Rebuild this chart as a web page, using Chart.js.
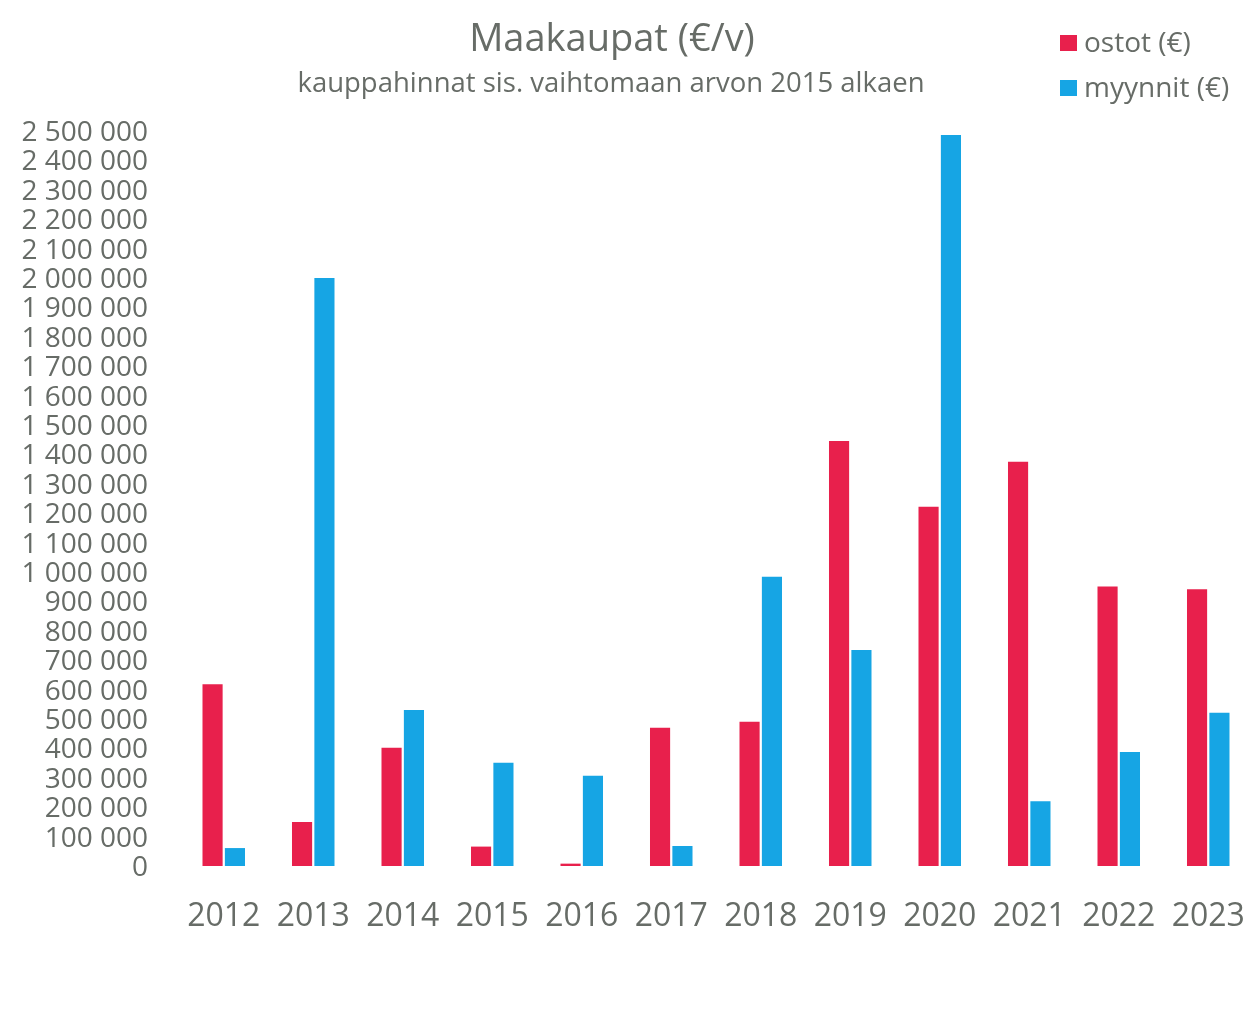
<!DOCTYPE html>
<html>
<head>
<meta charset="utf-8">
<script src="https://cdn.jsdelivr.net/npm/chart.js@4"></script>
<style>
html,body{margin:0;padding:0;background:#fff;}
canvas{display:block;}
</style>
</head>
<body>
<canvas id="c" width="1258" height="1024"></canvas>
<script>
const years = ['2012','2013','2014','2015','2016','2017','2018','2019','2020','2021','2022','2023'];
const ostot = [618000,150000,402000,66000,8000,470000,491000,1446000,1222000,1375000,951000,941000];
const myynnit = [61000,2000000,531000,351000,307000,68000,984000,735000,2486000,220000,388000,521000];
const seriesLabels = ['ostot (€)','myynnit (€)'];
const titleText = 'Maakaupat (€/v)';
const subtitleText = 'kauppahinnat sis. vaihtomaan arvon 2015 alkaen';
const yMax = 2500000;
const yStep = 100000;

const FONT = '"Open Sans", "Noto Sans", sans-serif';
const GREY = '#676c67';
const RED = '#e8204c';
const BLUE = '#16a5e4';

function fmt(v){ return String(v).replace(/\B(?=(\d{3})+(?!\d))/g,' '); }

const headerPlugin = {
  id:'header',
  afterDraw(chart){
    const ctx = chart.ctx;
    ctx.save();
    ctx.fillStyle = GREY;
    ctx.textAlign = 'center';
    ctx.textBaseline = 'middle';
    ctx.font = '38px ' + FONT;
    ctx.fillText(titleText, 612, 40);
    ctx.font = '27.5px ' + FONT;
    ctx.fillText(subtitleText, 611, 84);
    // legend
    const rows = [43, 88];
    chart.data.datasets.forEach((ds,i)=>{
      ctx.fillStyle = ds.backgroundColor;
      ctx.fillRect(1060, rows[i]-8, 17, 16);
      ctx.fillStyle = GREY;
      ctx.textAlign = 'left';
      ctx.font = '28px ' + FONT;
      ctx.fillText(ds.label, 1084, rows[i] + 1.5);
    });
    ctx.restore();
  }
};

new Chart(document.getElementById('c'), {
  type:'bar',
  data:{
    labels: years,
    datasets:[
      {label: seriesLabels[0], data: ostot, backgroundColor: RED},
      {label: seriesLabels[1], data: myynnit, backgroundColor: BLUE}
    ]
  },
  options:{
    responsive:false,
    animation:false,
    devicePixelRatio:1,
    layout:{padding:{top:131,right:5,left:0,bottom:0}},
    datasets:{bar:{categoryPercentage:0.5,barPercentage:0.9}},
    plugins:{legend:{display:false},title:{display:false},tooltip:{enabled:false}},
    scales:{
      x:{
        grid:{display:false,drawTicks:false},
        border:{display:false},
        ticks:{color:GREY,font:{family:FONT,size:32},padding:32,maxRotation:0,autoSkip:false},
        afterFit(s){ s.height = 158; s.paddingLeft = 0; s.paddingRight = 0; }
      },
      y:{
        min:0,max:yMax,
        grid:{display:false,drawTicks:false},
        border:{display:false},
        ticks:{stepSize:yStep,autoSkip:false,color:GREY,font:{family:FONT,size:28},padding:31,labelOffset:2,
          callback:(v)=>fmt(v)},
        afterFit(s){ s.width = 179; }
      }
    }
  },
  plugins:[headerPlugin]
});
</script>
</body>
</html>
